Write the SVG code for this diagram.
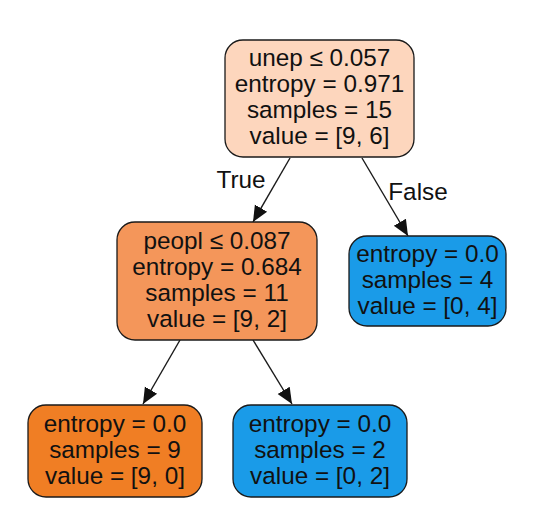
<svg xmlns="http://www.w3.org/2000/svg" width="551" height="523" viewBox="0 0 551 523">
<style>
.n{stroke:#1a1a1a;stroke-width:1.3}
text{font-family:"Liberation Sans",Arial,sans-serif;font-size:24.3px;fill:#111;text-anchor:middle}
.e{stroke:#1a1a1a;stroke-width:1.4;fill:none}
</style>
<defs>
<marker id="ah" viewBox="0 0 10 10" refX="10" refY="5" markerWidth="16" markerHeight="16" markerUnits="userSpaceOnUse" orient="auto">
<path d="M0,0.6 L10,5 L0,9.4 z" fill="#111"/>
</marker>
</defs>
<rect width="551" height="523" fill="#fff"/>
<g id="edges">
<line class="e" x1="290" y1="158" x2="253" y2="222" marker-end="url(#ah)"/>
<line class="e" x1="362" y1="158" x2="408" y2="236" marker-end="url(#ah)"/>
<line class="e" x1="180" y1="340" x2="143" y2="404" marker-end="url(#ah)"/>
<line class="e" x1="253" y1="340" x2="292" y2="404" marker-end="url(#ah)"/>
<text x="241" y="188">True</text>
<text x="418" y="200">False</text>
</g>
<g id="node0">
<rect class="n" x="225" y="40" width="189" height="117" rx="18" fill="#fdd6bd"/>
<text x="319.5" y="66">unep ≤ 0.057</text>
<text x="319.5" y="92">entropy = 0.971</text>
<text x="319.5" y="118">samples = 15</text>
<text x="319.5" y="144">value = [9, 6]</text>
</g>
<g id="node1">
<rect class="n" x="117" y="222" width="200" height="118" rx="18" fill="#f4965a"/>
<text x="217" y="249">peopl ≤ 0.087</text>
<text x="217" y="275">entropy = 0.684</text>
<text x="217" y="301">samples = 11</text>
<text x="217" y="327">value = [9, 2]</text>
</g>
<g id="node2">
<rect class="n" x="349" y="236" width="157" height="90" rx="18" fill="#1a9be8"/>
<text x="427.5" y="262">entropy = 0.0</text>
<text x="427.5" y="288">samples = 4</text>
<text x="427.5" y="314">value = [0, 4]</text>
</g>
<g id="node3">
<rect class="n" x="28" y="405" width="174" height="92" rx="18" fill="#f07e24"/>
<text x="115" y="432">entropy = 0.0</text>
<text x="115" y="458">samples = 9</text>
<text x="115" y="484">value = [9, 0]</text>
</g>
<g id="node4">
<rect class="n" x="233" y="405" width="174" height="92" rx="18" fill="#1a9be8"/>
<text x="320" y="432">entropy = 0.0</text>
<text x="320" y="458">samples = 2</text>
<text x="320" y="484">value = [0, 2]</text>
</g>
</svg>
